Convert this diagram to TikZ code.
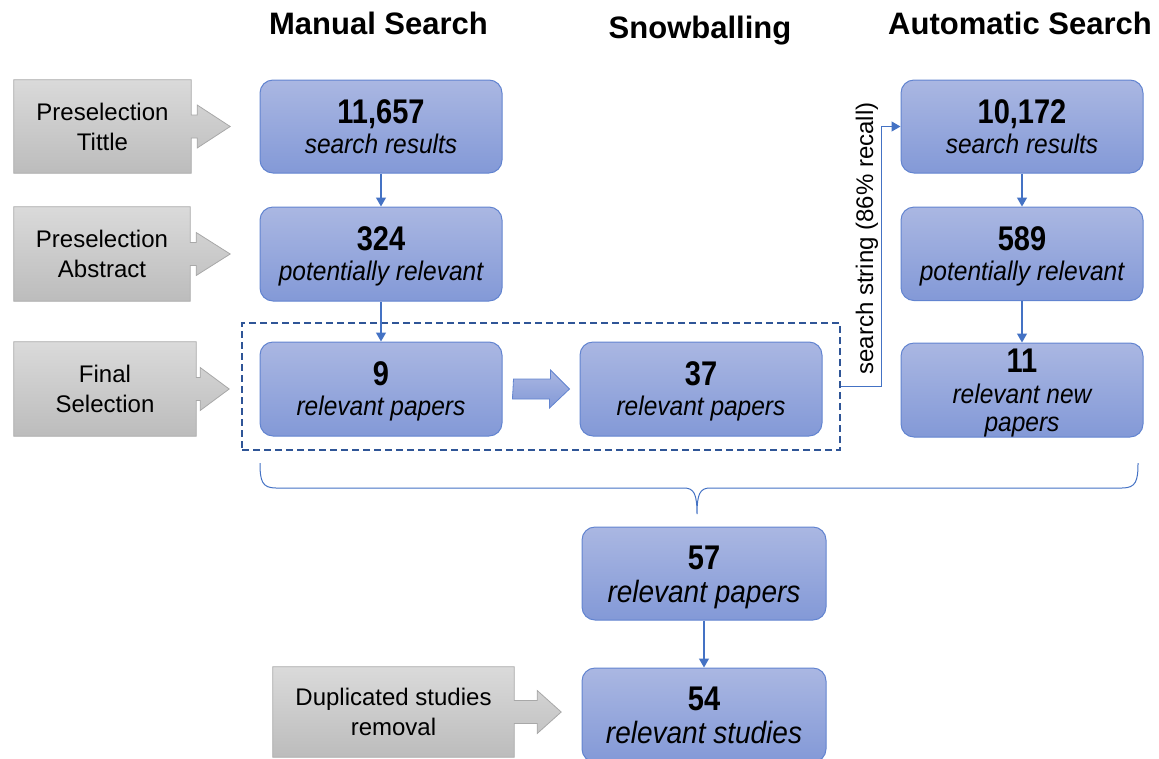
\documentclass[tikz,border=0pt]{standalone}
\usepackage{fontspec}
\usepackage{graphicx}
\setmainfont{Liberation Sans}
\usetikzlibrary{arrows.meta,backgrounds,calc}
\definecolor{btop}{RGB}{170,183,226}
\definecolor{bbot}{RGB}{131,153,215}
\definecolor{boxline}{RGB}{98,132,208}
\definecolor{gtop}{RGB}{218,218,218}
\definecolor{gbot}{RGB}{188,188,188}
\definecolor{gline}{RGB}{168,168,168}
\definecolor{conncol}{RGB}{68,114,196}
\definecolor{dashcol}{RGB}{47,85,151}
\newcommand\vsc[1]{\scalebox{1}[1.18]{#1}}
\newcommand\vsl[1]{\scalebox{1}[1.1]{#1}}
\begin{document}
\begin{tikzpicture}[x=1pt,y=-1pt,
  bluebox/.style={rectangle, rounded corners=13pt, draw=boxline, line width=1pt,
    top color=btop, bottom color=bbot, minimum width=242pt, minimum height=94pt, inner sep=0pt},
  grayarea/.style={draw=gline, line width=0.8pt, top color=gtop, bottom color=gbot},
  graybox/.style={rectangle, inner sep=0pt},
  graytext/.style={align=center, font=\fontsize{24}{30}\selectfont, inner sep=0pt, text=black},
  numtxt/.style={anchor=base, inner sep=0pt, font=\fontsize{29}{30}\selectfont\bfseries},
  labtxt/.style={anchor=base, inner sep=0pt, font=\fontsize{24.5}{26}\selectfont\itshape},
  biglab/.style={anchor=base, inner sep=0pt, font=\fontsize{28}{30}\selectfont\itshape},
  titletxt/.style={anchor=base, inner sep=0pt, font=\fontsize{31}{33}\selectfont\bfseries},
  conn/.style={draw=conncol, line width=1.2pt, -{Triangle[length=9pt,width=10pt]}},
  dashbox/.style={rectangle, draw=dashcol, line width=1.6pt, dash pattern=on 7pt off 4pt, inner sep=0pt},
  fatarrow/.style={draw=boxline, line width=0.8pt, top color=btop, bottom color=bbot},
  bracestyle/.style={draw=conncol, line width=1pt}
]
\useasboundingbox (0,0) rectangle (1159,758);

% titles
\node[titletxt] (t1) at (378.5,34.3) {Manual Search};
\node[titletxt] (t2) at (700,38) {Snowballing};
\node[titletxt] (t3) at (1020,34.3) {Automatic Search};

% dashed group
\node[dashbox, minimum width=598pt, minimum height=127pt] (grp) at (541,386.5) {};

% blue boxes
\node[bluebox, minimum height=93pt] (b1) at (381,126.5) {};
\node[bluebox] (b2) at (381,254) {};
\node[bluebox] (b3) at (381,389) {};
\node[bluebox] (b4) at (701,389) {};
\node[bluebox, minimum height=93pt] (a1) at (1022,126.5) {};
\node[bluebox, minimum height=93.5pt] (a2) at (1022,253.8) {};
\node[bluebox] (a3) at (1022,390) {};
\node[bluebox, minimum width=244pt, minimum height=93pt] (r1) at (704,573.5) {};
\node[bluebox, minimum width=244pt] (r2) at (704,715) {};

% box texts
\node[numtxt] (b1n) at (381,123) {\vsc{11,657}};
\node[labtxt] (b1l) at (381,153) {\vsl{search results}};
\node[numtxt] (b2n) at (381,250) {\vsc{324}};
\node[labtxt] (b2l) at (381,280) {\vsl{potentially relevant}};
\node[numtxt] (b3n) at (381,385) {\vsc{9}};
\node[labtxt] (b3l) at (381,415) {\vsl{relevant papers}};
\node[numtxt] (b4n) at (701,385) {\vsc{37}};
\node[labtxt] (b4l) at (701,415) {\vsl{relevant papers}};
\node[numtxt] (a1n) at (1022,123) {\vsc{10,172}};
\node[labtxt] (a1l) at (1022,153) {\vsl{search results}};
\node[numtxt] (a2n) at (1022,250) {\vsc{589}};
\node[labtxt] (a2l) at (1022,280) {\vsl{potentially relevant}};
\node[numtxt] (a3n) at (1022,372) {\vsc{11}};
\node[labtxt] (a3l) at (1022,403) {\vsl{relevant new}};
\node[labtxt] (a3m) at (1022,431) {\vsl{papers}};
\node[numtxt] (r1n) at (704,569) {\vsc{57}};
\node[biglab] (r1l) at (704,602) {\vsl{relevant papers}};
\node[numtxt] (r2n) at (704,710) {\vsc{54}};
\node[biglab] (r2l) at (704,743) {\vsl{relevant studies}};

% gray callout boxes
\node[graybox, minimum width=177pt, minimum height=93pt] (g1) at (102.5,126.5) {};
\node[graybox, minimum width=176pt, minimum height=94pt] (g2) at (102,254) {};
\node[graybox, minimum width=182pt, minimum height=94pt] (g3) at (105,389) {};
\node[graybox, minimum width=241pt, minimum height=90pt] (g4) at (393.5,712) {};
\begin{scope}[on background layer]
\foreach \g/\tip/\stem in {g1/39/6, g2/40/6, g3/33/4, g4/47/23} {
  \path[grayarea] (\g.north west) -- (\g.north east) -- ([yshift=11.5pt]\g.east)
    -- ++(\stem,0) -- ++(0,-10) -- ([xshift=\tip pt]\g.east) -- ([xshift=\stem pt, yshift=-21.5pt]\g.east)
    -- ++(0,-10) -- ([yshift=-11.5pt]\g.east) -- (\g.south east) -- (\g.south west) -- cycle;
}
\end{scope}
\node[graytext] (g1t) at (g1) {Preselection\\Tittle};
\node[graytext] (g2t) at (g2) {Preselection\\Abstract};
\node[graytext] (g3t) at (g3) {Final\\Selection};
\node[graytext] (g4t) at (g4) {Duplicated studies\\removal};

% connectors
\draw[conn] (b1) -- (b2);
\draw[conn] (b2) -- (b3);
\draw[conn] (a1) -- (a2);
\draw[conn] (a2) -- (a3);
\draw[conn] (r1) -- (r2);
\draw[conn] (grp.east) -- ++(40.7,0) |- (a1.west);
\node[rotate=90, anchor=base, inner sep=0pt, font=\fontsize{24}{26}\selectfont] (ssl) at (873,238.5) {search string (86\% recall)};

% fat arrow between 9 and 37
\path[fatarrow] ([xshift=11pt]b3.east) ++(0,-10) -- ++(37,0) -- ++(0,-9)
  -- ([xshift=-10pt]b4.west) -- ++(-20,19) -- ++(0,-9) -- ++(-37,0) -- cycle;

% brace
\coordinate (brL) at (260,463);
\coordinate (brT) at (697,514);
\coordinate (brR) at (1138,463);
\draw[bracestyle] (brL) .. controls (260,481) and (262,488) .. (276,488) -- (684,488)
  .. controls (694,488) and (697,494) .. (brT)
  .. controls (697,494) and (700,488) .. (710,488) -- (1122,488)
  .. controls (1136,488) and (1138,481) .. (brR);
\end{tikzpicture}
\end{document}
